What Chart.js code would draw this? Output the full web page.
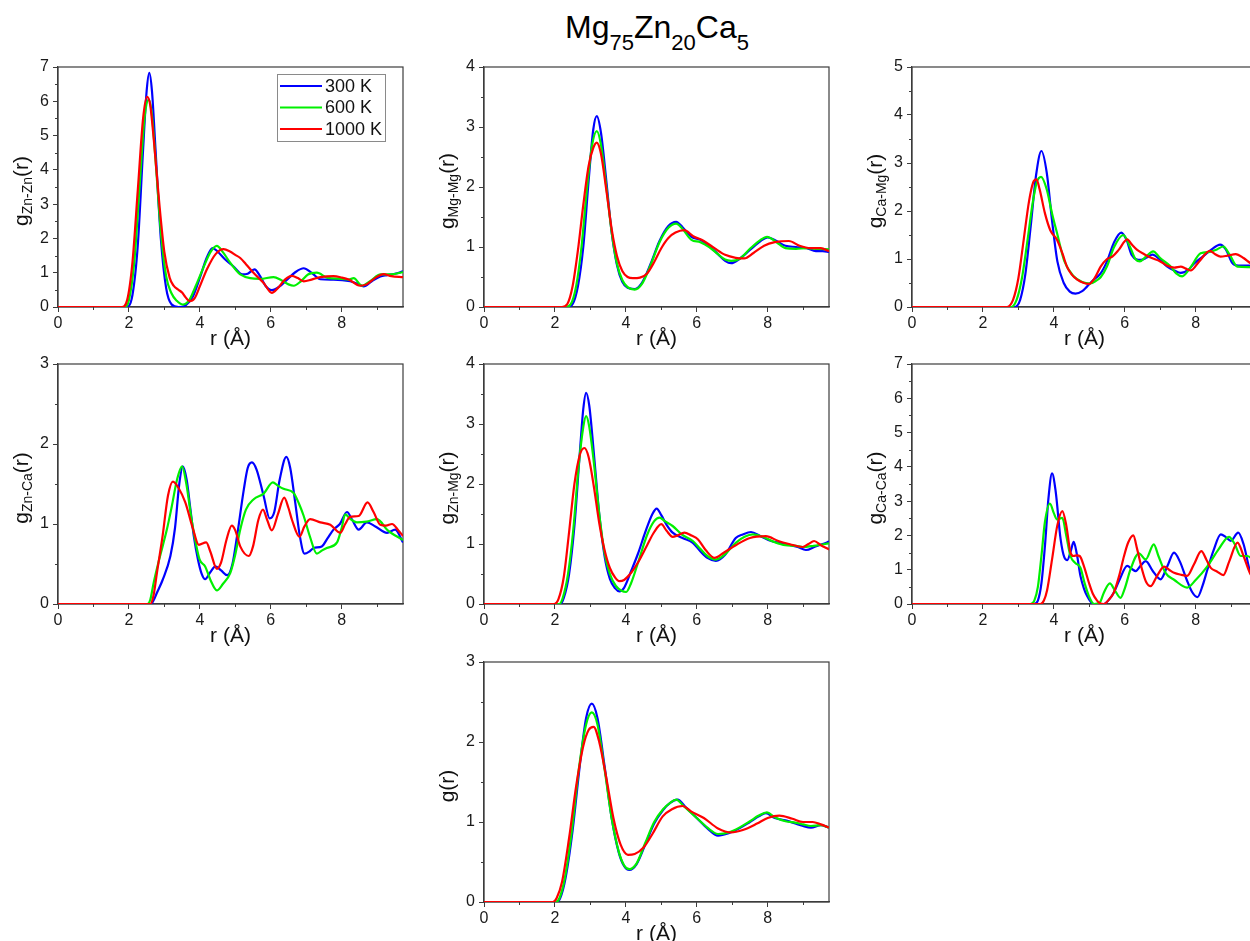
<!DOCTYPE html>
<html>
<head>
<meta charset="utf-8">
<script src="https://cdn.jsdelivr.net/npm/chart.js@4.4.1/dist/chart.umd.min.js"></script>
<style>
  html, body { margin: 0; padding: 0; background: #fff; }
  body { position: relative; width: 1250px; height: 941px; overflow: hidden; font-family: 'Liberation Sans', Arial, sans-serif; }
  canvas { position: absolute; }
  #title { position: absolute; left: 565px; top: 11px; font-size: 32px; line-height: 1; color: #000; white-space: nowrap; }
  #title sub { font-size: 22px; vertical-align: -12px; line-height: 1; }
</style>
</head>
<body>
<div id="title">Mg<sub>75</sub>Zn<sub>20</sub>Ca<sub>5</sub></div>
<script>
// temperatures and their line colours
const temps = ['300 K', '600 K', '1000 K'];
const colors = ['#0000ff', '#00f000', '#ff0000'];
const xTicks = [0, 2, 4, 6, 8];
const R_MAX = 9.73;

// g_Zn-Zn(r)
const znZn300 = [[0,0],[1.95,0],[2.1,0.35],[2.25,1.8],[2.4,4.6],[2.5,6.3],[2.575,6.83],[2.65,6.3],[2.75,4.6],[2.9,2.0],[3.05,0.55],[3.2,0.08],[3.4,0.0],[3.6,0.05],[3.8,0.3],[4.0,0.85],[4.2,1.45],[4.36,1.72],[4.5,1.62],[4.7,1.4],[4.95,1.18],[5.2,0.95],[5.35,0.97],[5.54,1.1],[5.7,0.9],[5.85,0.62],[6.03,0.49],[6.25,0.6],[6.46,0.8],[6.7,1.02],[6.93,1.13],[7.15,1.0],[7.4,0.81],[7.77,0.8],[8.24,0.75],[8.45,0.68],[8.62,0.6],[8.85,0.75],[9.09,0.89],[9.28,0.93],[9.5,0.97],[9.73,1.04]];
const znZn600 = [[0,0],[1.88,0],[2.0,0.2],[2.15,1.3],[2.3,3.5],[2.45,5.6],[2.56,6.05],[2.65,5.6],[2.75,4.3],[2.9,2.2],[3.05,0.9],[3.2,0.4],[3.35,0.18],[3.52,0.07],[3.7,0.2],[3.9,0.65],[4.1,1.15],[4.3,1.6],[4.48,1.78],[4.65,1.6],[4.85,1.3],[5.0,1.1],[5.14,0.95],[5.42,0.84],[5.7,0.82],[6.08,0.87],[6.3,0.78],[6.5,0.66],[6.65,0.62],[6.85,0.75],[7.05,0.95],[7.3,1.0],[7.6,0.85],[8.0,0.82],[8.2,0.8],[8.34,0.84],[8.57,0.62],[8.8,0.75],[9.1,0.95],[9.4,0.95],[9.73,1.02]];
const znZn1000 = [[0,0],[1.8,0],[1.95,0.2],[2.1,1.3],[2.25,3.4],[2.4,5.5],[2.51,6.13],[2.6,5.9],[2.7,4.9],[2.85,3.1],[3.0,1.6],[3.15,0.85],[3.26,0.62],[3.4,0.5],[3.5,0.42],[3.6,0.28],[3.71,0.17],[3.85,0.25],[4.0,0.6],[4.2,1.1],[4.45,1.55],[4.67,1.69],[4.85,1.62],[5.0,1.52],[5.14,1.43],[5.3,1.25],[5.52,0.99],[5.8,0.7],[6.03,0.41],[6.2,0.55],[6.4,0.8],[6.6,0.91],[6.75,0.85],[6.93,0.75],[7.15,0.8],[7.4,0.87],[7.77,0.9],[8.0,0.86],[8.2,0.8],[8.52,0.62],[8.7,0.66],[8.95,0.85],[9.18,0.96],[9.4,0.9],[9.73,0.87]];

// g_Mg-Mg(r)
const mgMg300 = [[0,0],[2.35,0],[2.5,0.05],[2.65,0.35],[2.8,1.0],[2.95,2.1],[3.08,2.95],[3.18,3.18],[3.3,2.9],[3.45,2.1],[3.6,1.25],[3.75,0.7],[3.9,0.42],[4.05,0.32],[4.24,0.3],[4.45,0.4],[4.7,0.72],[4.95,1.1],[5.2,1.35],[5.42,1.42],[5.6,1.33],[5.85,1.17],[6.1,1.12],[6.35,1.02],[6.6,0.88],[6.8,0.77],[6.97,0.73],[7.2,0.8],[7.5,0.95],[7.8,1.1],[8.0,1.16],[8.25,1.1],[8.5,1.02],[8.8,1.0],[9.1,0.98],[9.36,0.93],[9.55,0.93],[9.73,0.92]];
const mgMg600 = [[0,0],[2.3,0],[2.45,0.05],[2.6,0.35],[2.75,1.0],[2.9,1.95],[3.05,2.7],[3.18,2.93],[3.3,2.7],[3.45,2.0],[3.6,1.25],[3.75,0.72],[3.9,0.45],[4.05,0.33],[4.25,0.29],[4.45,0.38],[4.7,0.7],[4.95,1.08],[5.2,1.32],[5.42,1.39],[5.6,1.3],[5.85,1.12],[6.1,1.08],[6.35,1.0],[6.6,0.88],[6.8,0.79],[6.97,0.77],[7.2,0.8],[7.5,0.97],[7.8,1.12],[7.98,1.17],[8.25,1.08],[8.5,0.98],[8.8,0.97],[9.1,0.98],[9.4,0.97],[9.73,0.96]];
const mgMg1000 = [[0,0],[2.2,0],[2.35,0.05],[2.5,0.35],[2.65,0.95],[2.8,1.7],[2.95,2.35],[3.08,2.65],[3.18,2.74],[3.3,2.55],[3.45,1.95],[3.6,1.3],[3.75,0.85],[3.9,0.6],[4.05,0.5],[4.2,0.48],[4.4,0.49],[4.6,0.56],[4.8,0.75],[5.0,0.98],[5.2,1.15],[5.4,1.24],[5.65,1.28],[5.9,1.18],[6.2,1.1],[6.5,0.98],[6.8,0.87],[7.1,0.82],[7.34,0.81],[7.6,0.9],[7.9,1.02],[8.2,1.08],[8.6,1.1],[8.9,1.02],[9.2,0.98],[9.5,0.98],[9.73,0.93]];

// g_Ca-Mg(r)
const caMg300 = [[0,0],[2.9,0],[3.05,0.15],[3.2,0.7],[3.35,1.7],[3.5,2.75],[3.65,3.25],[3.8,2.8],[3.95,1.8],[4.1,0.95],[4.28,0.5],[4.45,0.32],[4.61,0.28],[4.8,0.33],[4.94,0.43],[5.1,0.55],[5.32,0.7],[5.5,0.95],[5.7,1.35],[5.9,1.55],[6.05,1.4],[6.2,1.08],[6.45,0.98],[6.62,1.03],[6.78,1.09],[7.0,0.98],[7.2,0.84],[7.4,0.76],[7.58,0.71],[7.8,0.78],[7.95,0.9],[8.2,1.05],[8.45,1.2],[8.69,1.3],[8.85,1.2],[9.03,0.92],[9.2,0.86],[9.5,0.86],[9.73,0.84]];
const caMg600 = [[0,0],[2.8,0],[2.95,0.15],[3.1,0.6],[3.25,1.35],[3.4,2.15],[3.52,2.6],[3.64,2.71],[3.8,2.45],[3.95,1.95],[4.09,1.54],[4.3,0.95],[4.56,0.64],[4.8,0.52],[5.03,0.49],[5.2,0.55],[5.32,0.62],[5.5,0.85],[5.7,1.25],[5.96,1.5],[6.15,1.25],[6.3,1.0],[6.43,0.95],[6.6,1.05],[6.8,1.16],[7.0,1.02],[7.29,0.85],[7.45,0.7],[7.62,0.64],[7.85,0.82],[8.14,1.12],[8.4,1.15],[8.6,1.2],[8.78,1.26],[8.95,1.1],[9.18,0.84],[9.5,0.83],[9.73,0.82]];
const caMg1000 = [[0,0],[2.68,0],[2.85,0.15],[3.0,0.6],[3.15,1.4],[3.3,2.2],[3.42,2.6],[3.51,2.66],[3.6,2.45],[3.75,1.95],[3.9,1.6],[4.09,1.4],[4.25,1.1],[4.37,0.84],[4.5,0.68],[4.66,0.57],[4.85,0.5],[4.99,0.48],[5.15,0.6],[5.32,0.84],[5.5,1.0],[5.65,1.05],[5.83,1.19],[6.07,1.41],[6.2,1.3],[6.35,1.19],[6.55,1.1],[6.73,1.03],[7.0,0.95],[7.2,0.86],[7.4,0.82],[7.58,0.84],[7.72,0.8],[7.86,0.76],[8.1,0.95],[8.4,1.17],[8.55,1.1],[8.7,1.05],[8.9,1.07],[9.13,1.1],[9.35,1.02],[9.55,0.91],[9.73,0.85]];

// g_Zn-Ca(r)
const znCa300 = [[0,0],[2.62,0],[2.7,0.05],[2.79,0.14],[2.95,0.3],[3.17,0.6],[3.3,0.95],[3.42,1.5],[3.52,1.72],[3.63,1.55],[3.73,1.2],[3.83,0.85],[3.95,0.55],[4.05,0.38],[4.15,0.31],[4.3,0.4],[4.44,0.47],[4.6,0.42],[4.77,0.36],[4.92,0.5],[5.05,0.85],[5.24,1.43],[5.35,1.7],[5.47,1.77],[5.6,1.68],[5.8,1.35],[5.97,1.07],[6.1,1.15],[6.25,1.55],[6.44,1.84],[6.55,1.7],[6.69,1.27],[6.82,0.85],[6.95,0.63],[7.1,0.66],[7.21,0.7],[7.44,0.72],[7.6,0.82],[7.77,0.93],[7.95,1.0],[8.15,1.15],[8.3,1.05],[8.48,0.93],[8.71,1.02],[8.95,0.97],[9.28,0.89],[9.51,0.93],[9.73,0.77]];
const znCa600 = [[0,0],[2.52,0],[2.6,0.05],[2.7,0.27],[2.85,0.55],[3.07,0.93],[3.2,1.2],[3.36,1.56],[3.5,1.72],[3.62,1.5],[3.78,1.02],[3.99,0.56],[4.15,0.47],[4.3,0.3],[4.48,0.17],[4.65,0.25],[4.86,0.39],[5.0,0.62],[5.14,0.93],[5.3,1.18],[5.52,1.31],[5.8,1.38],[6.06,1.52],[6.2,1.48],[6.36,1.44],[6.64,1.39],[6.8,1.25],[6.93,1.1],[7.1,0.85],[7.3,0.63],[7.45,0.67],[7.58,0.7],[7.87,0.77],[8.0,0.95],[8.1,1.12],[8.25,1.06],[8.43,1.02],[8.7,1.03],[9.0,1.06],[9.3,0.92],[9.73,0.8]];
const znCa1000 = [[0,0],[2.6,0],[2.7,0.12],[2.79,0.39],[2.95,0.85],[3.1,1.35],[3.24,1.53],[3.4,1.45],[3.59,1.27],[3.8,0.95],[3.97,0.74],[4.18,0.77],[4.3,0.65],[4.48,0.44],[4.6,0.52],[4.75,0.8],[4.9,0.98],[5.0,0.92],[5.14,0.72],[5.38,0.6],[5.5,0.72],[5.65,1.05],[5.78,1.18],[5.9,1.05],[6.03,0.92],[6.2,1.12],[6.38,1.33],[6.5,1.2],[6.6,1.05],[6.81,0.84],[6.95,0.97],[7.11,1.06],[7.4,1.02],[7.68,0.99],[7.96,0.89],[8.1,1.0],[8.24,1.09],[8.48,1.1],[8.73,1.27],[8.9,1.15],[9.09,0.99],[9.25,0.98],[9.42,1.0],[9.6,0.92],[9.73,0.85]];

// g_Zn-Mg(r)
const znMg300 = [[0,0],[2.15,0],[2.25,0.1],[2.4,0.5],[2.55,1.3],[2.7,2.5],[2.8,3.25],[2.88,3.52],[2.97,3.3],[3.1,2.5],[3.25,1.5],[3.4,0.8],[3.55,0.42],[3.7,0.26],[3.82,0.21],[3.95,0.27],[4.15,0.55],[4.35,0.85],[4.55,1.2],[4.75,1.5],[4.87,1.59],[5.0,1.48],[5.15,1.32],[5.32,1.19],[5.6,1.1],[5.89,1.02],[6.1,0.88],[6.3,0.77],[6.54,0.72],[6.8,0.82],[7.1,1.1],[7.3,1.16],[7.53,1.2],[7.8,1.13],[8.1,1.05],[8.33,1.02],[8.6,0.99],[8.85,0.95],[9.08,0.9],[9.35,0.96],[9.55,1.0],[9.73,1.04]];
const znMg600 = [[0,0],[2.12,0],[2.22,0.1],[2.37,0.5],[2.52,1.25],[2.67,2.3],[2.8,2.95],[2.88,3.13],[2.97,2.95],[3.1,2.35],[3.25,1.5],[3.4,0.85],[3.55,0.5],[3.72,0.3],[3.88,0.22],[4.01,0.2],[4.15,0.35],[4.35,0.7],[4.6,1.15],[4.8,1.38],[4.95,1.44],[5.1,1.38],[5.32,1.3],[5.6,1.15],[5.89,1.05],[6.1,0.92],[6.3,0.8],[6.54,0.74],[6.8,0.83],[7.1,1.02],[7.35,1.12],[7.58,1.16],[7.85,1.12],[8.2,1.03],[8.5,0.98],[8.8,0.97],[8.99,0.95],[9.3,0.97],[9.73,1.01]];
const znMg1000 = [[0,0],[1.98,0],[2.1,0.08],[2.25,0.45],[2.4,1.2],[2.55,2.0],[2.7,2.48],[2.83,2.6],[2.95,2.45],[3.1,1.95],[3.25,1.35],[3.4,0.9],[3.55,0.6],[3.7,0.44],[3.82,0.38],[3.95,0.4],[4.15,0.52],[4.35,0.7],[4.6,0.98],[4.8,1.2],[5.0,1.33],[5.15,1.22],[5.32,1.12],[5.45,1.14],[5.65,1.19],[5.85,1.14],[6.03,1.08],[6.25,0.9],[6.5,0.77],[6.75,0.85],[7.1,0.98],[7.5,1.1],[7.95,1.13],[8.3,1.05],[8.6,1.0],[8.99,0.95],[9.15,1.0],[9.31,1.05],[9.5,0.98],[9.73,0.91]];

// g_Ca-Ca(r)
const caCa300 = [[0,0],[3.44,0],[3.55,0.1],[3.65,0.6],[3.75,1.7],[3.85,3.1],[3.95,3.81],[4.05,3.3],[4.19,1.9],[4.3,1.35],[4.38,1.28],[4.48,1.55],[4.56,1.81],[4.65,1.45],[4.75,0.82],[4.85,0.45],[4.94,0.23],[5.05,0.05],[5.13,0.0],[5.41,0.0],[5.55,0.12],[5.69,0.33],[5.85,0.7],[6.07,1.11],[6.2,1.02],[6.31,0.96],[6.45,1.12],[6.59,1.25],[6.8,0.95],[7.01,0.72],[7.2,1.1],[7.39,1.5],[7.55,1.25],[7.75,0.7],[7.9,0.35],[8.05,0.2],[8.2,0.55],[8.33,1.0],[8.5,1.55],[8.71,2.03],[8.85,1.95],[8.99,1.84],[9.2,2.08],[9.35,1.75],[9.55,0.9],[9.73,0.7]];
const caCa600 = [[0,0],[3.34,0],[3.45,0.1],[3.55,0.5],[3.65,1.4],[3.75,2.4],[3.89,2.93],[4.0,2.65],[4.09,2.47],[4.24,2.51],[4.35,2.0],[4.47,1.4],[4.6,1.2],[4.75,1.06],[4.87,0.6],[4.99,0.23],[5.13,0.0],[5.3,0.05],[5.41,0.33],[5.58,0.6],[5.72,0.4],[5.88,0.18],[6.0,0.45],[6.16,1.0],[6.4,1.48],[6.59,1.3],[6.82,1.74],[6.95,1.4],[7.15,0.91],[7.4,0.7],[7.76,0.48],[8.0,0.7],[8.33,1.1],[8.65,1.6],[8.94,1.96],[9.1,1.75],[9.27,1.4],[9.46,1.4],[9.6,1.3],[9.73,1.15]];
const caCa1000 = [[0,0],[3.62,0],[3.72,0.1],[3.81,0.4],[3.95,1.3],[4.1,2.3],[4.24,2.71],[4.35,2.3],[4.47,1.5],[4.56,1.4],[4.65,1.42],[4.73,1.4],[4.85,1.1],[4.99,0.62],[5.1,0.3],[5.22,0.1],[5.3,0.02],[5.41,0.0],[5.55,0.12],[5.69,0.33],[5.85,0.85],[5.98,1.4],[6.1,1.8],[6.24,2.0],[6.35,1.6],[6.49,1.0],[6.6,0.65],[6.73,0.52],[6.9,0.8],[7.11,1.09],[7.25,1.0],[7.39,0.91],[7.6,0.85],[7.76,0.82],[7.95,1.15],[8.16,1.54],[8.3,1.3],[8.42,1.06],[8.6,0.95],[8.78,0.84],[8.95,1.25],[9.18,1.79],[9.35,1.4],[9.55,0.86],[9.73,0.7]];

// total g(r)
const gTot300 = [[0,0],[2.04,0],[2.15,0.05],[2.3,0.3],[2.5,0.9],[2.7,1.7],[2.88,2.3],[3.04,2.48],[3.2,2.3],[3.4,1.7],[3.6,1.05],[3.8,0.62],[3.95,0.45],[4.1,0.4],[4.3,0.47],[4.55,0.72],[4.8,0.98],[5.05,1.15],[5.25,1.24],[5.46,1.28],[5.7,1.18],[6.0,1.05],[6.3,0.92],[6.6,0.83],[6.9,0.86],[7.2,0.92],[7.5,1.0],[7.75,1.07],[7.95,1.11],[8.2,1.05],[8.5,1.02],[8.8,0.98],[9.0,0.95],[9.22,0.93],[9.5,0.96],[9.73,0.93]];
const gTot600 = [[0,0],[2.02,0],[2.13,0.05],[2.28,0.3],[2.48,0.9],[2.68,1.68],[2.88,2.22],[3.04,2.37],[3.2,2.22],[3.4,1.66],[3.6,1.05],[3.8,0.63],[3.95,0.46],[4.1,0.41],[4.3,0.48],[4.55,0.74],[4.8,1.0],[5.05,1.16],[5.25,1.24],[5.42,1.28],[5.65,1.19],[6.0,1.05],[6.3,0.93],[6.6,0.85],[6.9,0.87],[7.2,0.93],[7.5,1.01],[7.75,1.08],[7.98,1.12],[8.2,1.06],[8.5,1.01],[8.8,0.99],[9.0,0.97],[9.22,0.95],[9.5,0.96],[9.73,0.93]];
const gTot1000 = [[0,0],[1.94,0],[2.05,0.05],[2.2,0.25],[2.4,0.8],[2.6,1.45],[2.8,1.95],[2.95,2.15],[3.09,2.19],[3.25,2.0],[3.45,1.55],[3.65,1.05],[3.85,0.72],[4.06,0.59],[4.25,0.6],[4.5,0.68],[4.75,0.85],[5.04,1.07],[5.3,1.16],[5.6,1.2],[5.85,1.13],[6.2,1.05],[6.6,0.92],[6.97,0.87],[7.3,0.9],[7.7,0.98],[8.0,1.05],[8.33,1.08],[8.7,1.04],[9.0,1.0],[9.27,1.0],[9.5,0.97],[9.73,0.93]];

const FONT = "'Liberation Sans', Arial, sans-serif";
const AXIS = '#3c3c3c';
const PLOT_W = 345, PLOT_H = 240;
const Y_W = 58, X_H = 47, PAD_T = 14, PAD_R = 12;

const panels = [
  { left: 58,  top: 67,  ymax: 7, sub: 'Zn-Zn', series: [znZn300, znZn600, znZn1000], legend: true },
  { left: 484, top: 67,  ymax: 4, sub: 'Mg-Mg', series: [mgMg300, mgMg600, mgMg1000] },
  { left: 912, top: 67,  ymax: 5, sub: 'Ca-Mg', series: [caMg300, caMg600, caMg1000] },
  { left: 58,  top: 364, ymax: 3, sub: 'Zn-Ca', series: [znCa300, znCa600, znCa1000] },
  { left: 484, top: 364, ymax: 4, sub: 'Zn-Mg', series: [znMg300, znMg600, znMg1000] },
  { left: 912, top: 364, ymax: 7, sub: 'Ca-Ca', series: [caCa300, caCa600, caCa1000] },
  { left: 484, top: 662, ymax: 3, sub: '',      series: [gTot300, gTot600, gTot1000] }
];

// box frame, minor ticks, y title with subscript and the inset legend
const panelDecor = {
  id: 'panelDecor',
  beforeDatasetsDraw(chart) {
    const { ctx, chartArea: a, scales: { x, y } } = chart;
    ctx.save();
    ctx.strokeStyle = AXIS;
    ctx.lineWidth = 1.2;
    ctx.strokeRect(a.left, a.top, a.right - a.left, a.bottom - a.top);
    ctx.lineWidth = 1;
    ctx.beginPath();
    for (let v = 1; v < R_MAX; v += 2) {
      const px = Math.round(x.getPixelForValue(v)) + 0.5;
      ctx.moveTo(px, a.bottom);
      ctx.lineTo(px, a.bottom + 3);
    }
    for (let v = 0.5; v < y.max; v += 1) {
      const py = Math.round(y.getPixelForValue(v)) + 0.5;
      ctx.moveTo(a.left, py);
      ctx.lineTo(a.left - 3, py);
    }
    ctx.stroke();
    ctx.restore();
  },
  afterDraw(chart, args, opts) {
    const { ctx, chartArea: a } = chart;
    ctx.save();
    // rotated y title: g, subscript pair, (r)
    ctx.translate(a.left - 36, (a.top + a.bottom) / 2 + 4);
    ctx.rotate(-Math.PI / 2);
    ctx.fillStyle = '#111';
    ctx.textBaseline = 'middle';
    const big = '21px ' + FONT, small = '14px ' + FONT;
    ctx.font = big;
    const wg = ctx.measureText('g').width, wr = ctx.measureText('(r)').width;
    ctx.font = small;
    const ws = opts.sub ? ctx.measureText(opts.sub).width : 0;
    let cx = -(wg + ws + wr) / 2;
    ctx.font = big;
    ctx.fillText('g', cx, 0);
    cx += wg;
    if (opts.sub) {
      ctx.font = small;
      ctx.fillText(opts.sub, cx, 6);
      cx += ws;
    }
    ctx.font = big;
    ctx.fillText('(r)', cx, 0);
    ctx.restore();

    if (opts.legend) {
      const bx = a.left + 219, by = a.top + 7, bw = 108, bh = 67;
      ctx.save();
      ctx.fillStyle = '#fff';
      ctx.fillRect(bx, by, bw, bh);
      ctx.strokeStyle = '#8a8a8a';
      ctx.lineWidth = 1;
      ctx.strokeRect(bx + 0.5, by + 0.5, bw, bh);
      ctx.font = '18px ' + FONT;
      ctx.textBaseline = 'middle';
      chart.data.datasets.forEach((ds, i) => {
        const ry = by + 12 + i * 21.5;
        ctx.strokeStyle = ds.borderColor;
        ctx.lineWidth = 2;
        ctx.beginPath();
        ctx.moveTo(bx + 3, ry);
        ctx.lineTo(bx + 45, ry);
        ctx.stroke();
        ctx.fillStyle = '#111';
        ctx.fillText(ds.label, bx + 48, ry + 1);
      });
      ctx.restore();
    }
  }
};

panels.forEach(p => {
  const canvas = document.createElement('canvas');
  canvas.width = Y_W + PLOT_W + PAD_R;
  canvas.height = PAD_T + PLOT_H + X_H;
  canvas.style.left = (p.left - Y_W) + 'px';
  canvas.style.top = (p.top - PAD_T) + 'px';
  document.body.appendChild(canvas);

  const yTicks = [];
  for (let v = 0; v <= p.ymax; v++) yTicks.push(v);

  new Chart(canvas, {
    type: 'line',
    data: {
      datasets: p.series.map((d, i) => ({
        label: temps[i],
        data: d,
        borderColor: colors[i],
        borderWidth: 2.2,
        pointRadius: 0,
        fill: false,
        cubicInterpolationMode: 'monotone',
        order: 2 - i   // 1000 K drawn last, on top
      }))
    },
    options: {
      responsive: false,
      animation: false,
      events: [],
      layout: { padding: { top: PAD_T, right: PAD_R, left: 0, bottom: 0 } },
      plugins: {
        legend: { display: false },
        tooltip: { enabled: false },
        panelDecor: { sub: p.sub, legend: !!p.legend }
      },
      scales: {
        x: {
          type: 'linear',
          min: 0,
          max: R_MAX,
          afterBuildTicks: s => { s.ticks = xTicks.map(v => ({ value: v })); },
          afterFit: s => { s.height = X_H; },
          grid: { drawOnChartArea: false, tickLength: 5, color: AXIS },
          border: { color: AXIS, width: 1.2 },
          ticks: { padding: 2, maxRotation: 0, color: '#1a1a1a', font: { family: FONT, size: 16 } },
          title: { display: true, text: 'r (Å)', color: '#111', font: { family: FONT, size: 21 }, padding: { top: 0, bottom: 2 } }
        },
        y: {
          min: 0,
          max: p.ymax,
          afterBuildTicks: s => { s.ticks = yTicks.map(v => ({ value: v })); },
          afterFit: s => { s.width = Y_W; },
          grid: { drawOnChartArea: false, tickLength: 5, color: AXIS },
          border: { color: AXIS, width: 1.2 },
          ticks: { padding: 4, color: '#1a1a1a', font: { family: FONT, size: 16 } }
        }
      }
    },
    plugins: [panelDecor]
  });
});
</script>
</body>
</html>
